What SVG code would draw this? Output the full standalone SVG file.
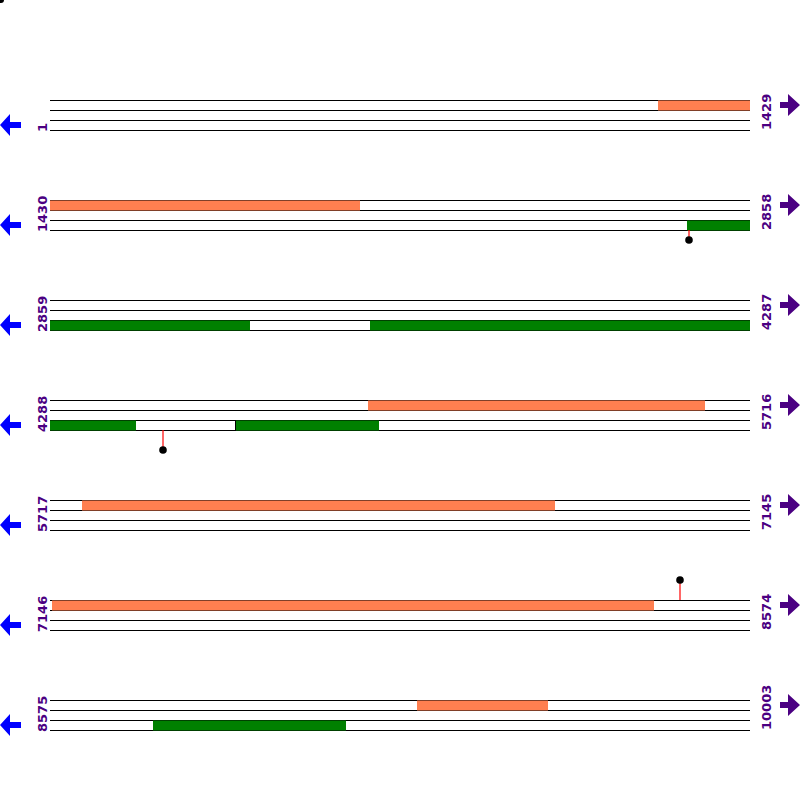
<svg xmlns="http://www.w3.org/2000/svg" width="800" height="800" viewBox="0 0 800 800">
<defs>
<style>
.ln{stroke:#000;stroke-width:1;fill:none}
.or{fill:#FF7F50}
.gr{fill:#008000}
.lab{font-family:"DejaVu Sans",sans-serif;font-weight:bold;font-size:13px;fill:#4B0082}
.la{fill:#0000FF}
.ra{fill:#4B0082}
.stem{stroke:#FF0000;stroke-width:1.2}
</style>
<g id="tracks">
<path id="lines" class="ln" d="M50 100.5H750M50 110.5H750M50 120.5H750M50 130.5H750"/>
</g>
<path id="larrow" class="la" d="M0 0L10 -11V-3H21V3H10V11Z"/>
<path id="rarrow" class="ra" d="M0 0L-12 -11V-3H-20V3H-12V11Z"/>
</defs>
<rect width="800" height="800" fill="#fff"/>
<circle cx="1" cy="0" r="3" fill="#000"/>
<g id="row1">
<use href="#lines"/>
<rect class="or" x="658" y="100.5" width="92" height="10"/>
<text class="lab" transform="translate(47,132) rotate(-90)">1</text>
<text class="lab" transform="translate(771,130) rotate(-90)">1429</text>
<use href="#larrow" x="0" y="125"/><use href="#rarrow" x="800" y="105"/>
</g>
<g id="row2">
<use href="#lines" y="100"/>
<rect class="or" x="50" y="200.5" width="310" height="10"/>
<rect class="gr" x="687" y="220.5" width="63" height="10"/>
<line class="stem" x1="689" y1="230" x2="689" y2="240"/><circle cx="689" cy="240" r="3.8"/>
<text class="lab" transform="translate(47,232) rotate(-90)">1430</text>
<text class="lab" transform="translate(771,230) rotate(-90)">2858</text>
<use href="#larrow" x="0" y="225"/><use href="#rarrow" x="800" y="205"/>
</g>
<g id="row3">
<use href="#lines" y="200"/>
<rect class="gr" x="50" y="320.5" width="200" height="10"/>
<rect class="gr" x="370" y="320.5" width="380" height="10"/>
<text class="lab" transform="translate(47,332) rotate(-90)">2859</text>
<text class="lab" transform="translate(771,330) rotate(-90)">4287</text>
<use href="#larrow" x="0" y="325"/><use href="#rarrow" x="800" y="305"/>
</g>
<g id="row4">
<use href="#lines" y="300"/>
<rect class="or" x="368" y="400.5" width="337" height="10"/>
<rect class="gr" x="50" y="420.5" width="86" height="10"/>
<rect class="gr" x="235" y="420.5" width="144" height="10"/>
<line class="ln" x1="235.5" y1="420" x2="235.5" y2="431"/>
<line class="stem" x1="163" y1="430" x2="163" y2="450"/><circle cx="163" cy="450" r="3.8"/>
<text class="lab" transform="translate(47,432) rotate(-90)">4288</text>
<text class="lab" transform="translate(771,430) rotate(-90)">5716</text>
<use href="#larrow" x="0" y="425"/><use href="#rarrow" x="800" y="405"/>
</g>
<g id="row5">
<use href="#lines" y="400"/>
<rect class="or" x="82" y="500.5" width="473" height="10"/>
<text class="lab" transform="translate(47,532) rotate(-90)">5717</text>
<text class="lab" transform="translate(771,530) rotate(-90)">7145</text>
<use href="#larrow" x="0" y="525"/><use href="#rarrow" x="800" y="505"/>
</g>
<g id="row6">
<use href="#lines" y="500"/>
<rect class="or" x="52" y="600.5" width="602" height="10"/>
<line class="stem" x1="680" y1="580" x2="680" y2="600"/><circle cx="680" cy="580" r="3.8"/>
<text class="lab" transform="translate(47,632) rotate(-90)">7146</text>
<text class="lab" transform="translate(771,630) rotate(-90)">8574</text>
<use href="#larrow" x="0" y="625"/><use href="#rarrow" x="800" y="605"/>
</g>
<g id="row7">
<use href="#lines" y="600"/>
<rect class="or" x="417" y="700.5" width="131" height="10"/>
<rect class="gr" x="153" y="720.5" width="193" height="10"/>
<text class="lab" transform="translate(47,732) rotate(-90)">8575</text>
<text class="lab" transform="translate(771,730) rotate(-90)">10003</text>
<use href="#larrow" x="0" y="725"/><use href="#rarrow" x="800" y="705"/>
</g>
</svg>
